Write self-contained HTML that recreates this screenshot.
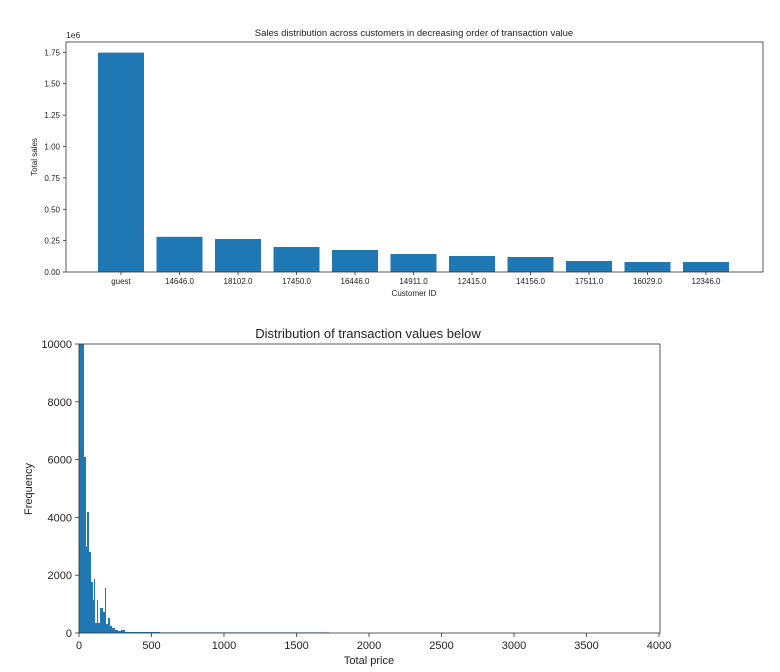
<!DOCTYPE html>
<html><head><style>
body{margin:0;background:#fff;}
svg text{font-family:"Liberation Sans","DejaVu Sans",sans-serif;fill:#222;}
</style></head><body>
<svg width="780" height="667" viewBox="0 0 780 667" xmlns="http://www.w3.org/2000/svg">
<rect width="780" height="667" fill="#fff"/>
<!-- Top chart -->
<text x="414" y="36" font-size="9.5" text-anchor="middle">Sales distribution across customers in decreasing order of transaction value</text>
<text x="66" y="38" font-size="8.5">1e6</text>
<g fill="#1f77b4">
<rect x="98" y="52.6" width="46" height="219.4"/>
<rect x="156.5" y="236.8" width="46" height="35.2"/>
<rect x="215" y="239" width="46" height="33"/>
<rect x="273.5" y="247" width="46" height="25"/>
<rect x="332" y="250" width="46" height="22"/>
<rect x="390.5" y="254" width="46" height="18"/>
<rect x="449" y="256" width="46" height="16"/>
<rect x="507.5" y="257" width="46" height="15"/>
<rect x="566" y="261" width="46" height="11"/>
<rect x="624.5" y="262" width="46" height="10"/>
<rect x="683" y="262" width="46" height="10"/>
</g>
<rect x="66" y="42" width="697" height="230" fill="none" stroke="#333" stroke-width="0.8"/>
<g font-size="8" text-anchor="end">
<text x="60" y="275">0.00</text><text x="60" y="243.6">0.25</text><text x="60" y="212.3">0.50</text><text x="60" y="180.9">0.75</text><text x="60" y="149.6">1.00</text><text x="60" y="118.1">1.25</text><text x="60" y="86.7">1.50</text><text x="60" y="55.3">1.75</text>
</g>
<g stroke="#333" stroke-width="0.8">
<line x1="63" x2="66" y1="272" y2="272"/><line x1="63" x2="66" y1="240.6" y2="240.6"/><line x1="63" x2="66" y1="209.3" y2="209.3"/><line x1="63" x2="66" y1="177.9" y2="177.9"/><line x1="63" x2="66" y1="146.6" y2="146.6"/><line x1="63" x2="66" y1="115.1" y2="115.1"/><line x1="63" x2="66" y1="83.7" y2="83.7"/><line x1="63" x2="66" y1="52.3" y2="52.3"/>
<line x1="121" x2="121" y1="272" y2="275"/><line x1="179.5" x2="179.5" y1="272" y2="275"/><line x1="238" x2="238" y1="272" y2="275"/><line x1="296.5" x2="296.5" y1="272" y2="275"/><line x1="355" x2="355" y1="272" y2="275"/><line x1="413.5" x2="413.5" y1="272" y2="275"/><line x1="472" x2="472" y1="272" y2="275"/><line x1="530.5" x2="530.5" y1="272" y2="275"/><line x1="589" x2="589" y1="272" y2="275"/><line x1="647.5" x2="647.5" y1="272" y2="275"/><line x1="706" x2="706" y1="272" y2="275"/>
</g>
<text transform="translate(37,157) rotate(-90)" font-size="8" text-anchor="middle">Total sales</text>
<g font-size="8" text-anchor="middle">
<text x="121" y="284">guest</text><text x="179.5" y="284">14646.0</text><text x="238" y="284">18102.0</text><text x="296.5" y="284">17450.0</text><text x="355" y="284">16446.0</text><text x="413.5" y="284">14911.0</text><text x="472" y="284">12415.0</text><text x="530.5" y="284">14156.0</text><text x="589" y="284">17511.0</text><text x="647.5" y="284">16029.0</text><text x="706" y="284">12346.0</text>
</g>
<text x="414" y="296" font-size="8" text-anchor="middle">Customer ID</text>

<!-- Bottom chart -->
<text x="368" y="338" font-size="13" text-anchor="middle">Distribution of transaction values below</text>
<g fill="#1f77b4">
<rect x="79" y="344" width="5" height="289"/>
<rect x="84" y="457" width="2" height="176"/>
<rect x="86" y="547" width="1" height="86"/>
<rect x="87" y="512" width="2" height="121"/>
<rect x="89" y="552" width="2" height="81"/>
<rect x="91" y="582" width="2" height="51"/>
<rect x="93" y="600" width="1" height="33"/>
<rect x="94" y="579" width="1" height="54"/>
<rect x="95" y="623" width="2" height="10"/>
<rect x="97" y="600" width="1" height="33"/>
<rect x="98" y="623" width="2" height="10"/>
<rect x="100" y="608" width="3" height="25"/>
<rect x="103" y="612" width="2" height="21"/>
<rect x="105" y="588" width="1" height="45"/>
<rect x="106" y="624" width="2" height="9"/>
<rect x="108" y="618" width="2" height="15"/>
<rect x="110" y="626" width="2" height="7"/>
<rect x="112" y="628" width="3" height="5"/>
<rect x="115" y="630" width="3" height="3"/>
<rect x="118" y="631" width="3" height="2"/>
<rect x="121" y="630" width="4" height="3"/>
<rect x="125" y="632" width="35" height="1"/>
<rect x="160" y="632.4" width="170" height="0.6"/>
</g>
<rect x="79" y="344" width="581" height="289" fill="none" stroke="#333" stroke-width="0.8"/>
<g font-size="11" text-anchor="end">
<text x="72" y="637">0</text><text x="72" y="579">2000</text><text x="72" y="521.4">4000</text><text x="72" y="463.6">6000</text><text x="72" y="405.8">8000</text><text x="72" y="348">10000</text>
</g>
<g stroke="#333" stroke-width="0.8">
<line x1="75" x2="79" y1="633" y2="633"/><line x1="75" x2="79" y1="575.2" y2="575.2"/><line x1="75" x2="79" y1="517.4" y2="517.4"/><line x1="75" x2="79" y1="459.6" y2="459.6"/><line x1="75" x2="79" y1="401.8" y2="401.8"/><line x1="75" x2="79" y1="344" y2="344"/>
<line x1="79" x2="79" y1="633" y2="637"/><line x1="151.5" x2="151.5" y1="633" y2="637"/><line x1="224" x2="224" y1="633" y2="637"/><line x1="296.5" x2="296.5" y1="633" y2="637"/><line x1="369" x2="369" y1="633" y2="637"/><line x1="441.5" x2="441.5" y1="633" y2="637"/><line x1="514" x2="514" y1="633" y2="637"/><line x1="586.5" x2="586.5" y1="633" y2="637"/><line x1="659" x2="659" y1="633" y2="637"/>
</g>
<g font-size="11" text-anchor="middle">
<text x="79" y="649">0</text><text x="151.5" y="649">500</text><text x="224" y="649">1000</text><text x="296.5" y="649">1500</text><text x="369" y="649">2000</text><text x="441.5" y="649">2500</text><text x="514" y="649">3000</text><text x="586.5" y="649">3500</text><text x="659" y="649">4000</text>
</g>
<text x="369" y="664" font-size="11" text-anchor="middle">Total price</text>
<text transform="translate(32,489) rotate(-90)" font-size="11" text-anchor="middle">Frequency</text>
</svg>
</body></html>
